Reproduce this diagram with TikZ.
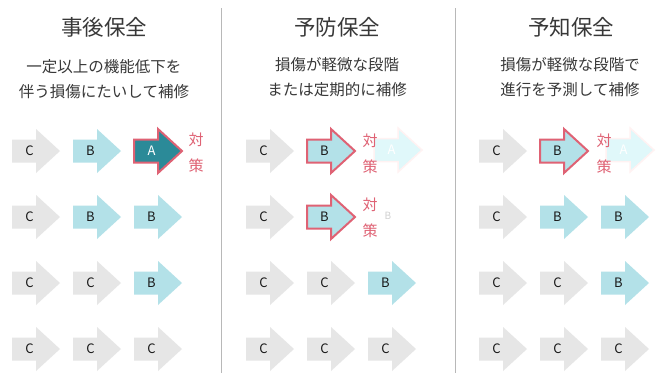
\documentclass[tikz,border=0pt]{standalone}
\usepackage{fontspec}
\setmainfont{Noto Sans CJK JP}
\begin{document}
\begin{tikzpicture}[x=1pt,y=-1pt,
  title/.style={font=\fontsize{21.5}{24}\selectfont, text=black!78},
  sub/.style={font=\fontsize{15.5}{25}\selectfont, text=black!78, align=center},
  lbl/.style={font=\fontsize{13}{14}\selectfont, text=black!90},
  taisaku/.style={font=\fontsize{15}{26}\selectfont, text=pinkred, align=center},
  sep/.style={draw=black!28, line width=1pt},
  grayarr/.style={fill=arrgray},
  bluearr/.style={fill=arrblue},
  hiarr/.style={fill=arrblue, draw=pinkred, line width=2pt, line join=miter},
  tealarr/.style={fill=arrteal, draw=pinkred, line width=2pt, line join=miter},
  ghostarr/.style={fill=ghostcyan, draw=red!5, line width=1.5pt}
]
\definecolor{arrgray}{HTML}{E6E6E6}
\definecolor{arrblue}{HTML}{B3E1E8}
\definecolor{arrteal}{HTML}{2B8A98}
\definecolor{pinkred}{HTML}{DF6274}
\definecolor{ghostcyan}{HTML}{E0F8FA}
\useasboundingbox (0,0) rectangle (657,373);
\fill[white] (0,0) rectangle (657,373);

\newcommand\myarrow[5]{% x, y, style, name, text
  \path[#3] ({#1},{#2-11.5}) -- ({#1+24},{#2-11.5}) -- ({#1+24},{#2-22}) -- ({#1+48},{#2}) -- ({#1+24},{#2+22}) -- ({#1+24},{#2+11.5}) -- ({#1},{#2+11.5}) -- cycle;
  \node[lbl] (#4) at ({#1+17.5},{#2}) {#5};
}

% separators
\coordinate (s1t) at (221,8); \coordinate (s1b) at (221,373);
\coordinate (s2t) at (455,8); \coordinate (s2b) at (455,373);
\draw[sep] (s1t) -- (s1b);
\draw[sep] (s2t) -- (s2b);

% titles
\node[title] (t1) at (104,27) {事後保全};
\node[title] (t2) at (337,27) {予防保全};
\node[title] (t3) at (571,27) {予知保全};
\node[sub] (d1) at (104,79) {一定以上の機能低下を\\伴う損傷にたいして補修};
\node[sub] (d2) at (337,77) {損傷が軽微な段階\\または定期的に補修};
\node[sub] (d3) at (570,77) {損傷が軽微な段階で\\進行を予測して補修};

% column 1
\myarrow{12}{151}{grayarr}{a11}{C}
\myarrow{73}{151}{bluearr}{a12}{B}
\myarrow{134}{151}{tealarr}{a13}{\textcolor{white}{A}}
\node[taisaku] (k1) at (196,153) {対\\策};
\myarrow{12}{217}{grayarr}{a21}{C}
\myarrow{73}{217}{bluearr}{a22}{B}
\myarrow{134}{217}{bluearr}{a23}{B}
\myarrow{12}{283}{grayarr}{a31}{C}
\myarrow{73}{283}{grayarr}{a32}{C}
\myarrow{134}{283}{bluearr}{a33}{B}
\myarrow{12}{349}{grayarr}{a41}{C}
\myarrow{73}{349}{grayarr}{a42}{C}
\myarrow{134}{349}{grayarr}{a43}{C}

% column 2
\myarrow{246}{151}{grayarr}{b11}{C}
\myarrow{374}{150}{ghostarr}{b13}{\textcolor{white}{A}}
\myarrow{307}{151}{hiarr}{b12}{B}
\node[taisaku] (k2) at (370,154) {対\\策};
\myarrow{246}{217}{grayarr}{b21}{C}
\myarrow{307}{217}{hiarr}{b22}{B}
\node[lbl, text=black!18, font=\fontsize{10}{10}\selectfont] (b23) at (388,216) {B};
\node[taisaku] (k3) at (370,218) {対\\策};
\myarrow{246}{283}{grayarr}{b31}{C}
\myarrow{307}{283}{grayarr}{b32}{C}
\myarrow{368}{283}{bluearr}{b33}{B}
\myarrow{246}{349}{grayarr}{b41}{C}
\myarrow{307}{349}{grayarr}{b42}{C}
\myarrow{368}{349}{grayarr}{b43}{C}

% column 3
\myarrow{479}{151}{grayarr}{c11}{C}
\myarrow{606}{150}{ghostarr}{c13}{\textcolor{white}{A}}
\myarrow{540}{151}{hiarr}{c12}{B}
\node[taisaku] (k4) at (604,154) {対\\策};
\myarrow{479}{217}{grayarr}{c21}{C}
\myarrow{540}{217}{bluearr}{c22}{B}
\myarrow{601}{217}{bluearr}{c23}{B}
\myarrow{479}{283}{grayarr}{c31}{C}
\myarrow{540}{283}{grayarr}{c32}{C}
\myarrow{601}{283}{bluearr}{c33}{B}
\myarrow{479}{349}{grayarr}{c41}{C}
\myarrow{540}{349}{grayarr}{c42}{C}
\myarrow{601}{349}{grayarr}{c43}{C}
\end{tikzpicture}
\end{document}
